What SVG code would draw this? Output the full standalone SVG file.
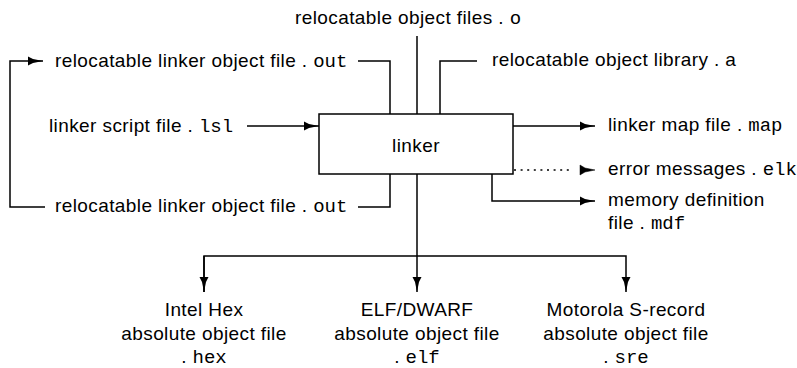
<svg xmlns="http://www.w3.org/2000/svg" width="797" height="368" viewBox="0 0 797 368">
<defs>
<style>
.t{font-family:"Liberation Sans",Arial,sans-serif;font-size:19px;letter-spacing:0.4px;fill:#000}
.m{font-family:"Liberation Mono","Courier New",monospace;font-size:19px;letter-spacing:0}
.ln{stroke:#000;stroke-width:1.5;fill:none}
.dot{stroke:#000;stroke-width:1.5;fill:none;stroke-dasharray:2 4.6}
.box{fill:#fff;stroke:#000;stroke-width:1.5}
</style>
<marker id="ah" viewBox="0 0 15 10" refX="15" refY="5" markerWidth="15" markerHeight="10" markerUnits="userSpaceOnUse" orient="auto">
<path d="M0,0.5 L5,3 L15,5 L5,7 L0,9.5 Z" fill="#000"/>
</marker>
</defs>
<rect width="797" height="368" fill="#fff"/>
<g id="connectors">
<path class="ln" d="M417,36 V114"/>
<path class="ln" d="M477,61 H440 V114"/>
<path class="ln" d="M358,61 H390 V114"/>
<path class="ln" d="M358,207 H390 V174"/>
<path class="ln" d="M45,207 H10 V61 H43" marker-end="url(#ah)"/>
<path class="ln" d="M247,126 H319" marker-end="url(#ah)"/>
<path class="ln" d="M513,126 H595" marker-end="url(#ah)"/>
<path class="dot" d="M514,170 H572"/>
<polygon points="580,165 585,168 595,170 585,172 580,175" fill="#000" stroke="#000" stroke-width="0.5"/>
<path class="ln" d="M492,174 V201 H595" marker-end="url(#ah)"/>
<path class="ln" d="M417,174 V292" marker-end="url(#ah)"/>
<path class="ln" d="M204,292 V256 H626 V292" marker-end="url(#ah)"/>
<path class="ln" d="M204,256 V292" marker-end="url(#ah)"/>
</g>
<g id="linker">
<rect class="box" x="319" y="114" width="194" height="60"/>
<text class="t" x="416" y="152" text-anchor="middle">linker</text>
</g>
<g id="obj-files"><text class="t" x="295" y="24">relocatable object files  . <tspan class="m">o</tspan></text></g>
<g id="obj-library"><text class="t" x="492" y="66">relocatable object library . a</text></g>
<g id="out-top"><text class="t" x="55" y="67">relocatable linker object file  . <tspan class="m">out</tspan></text></g>
<g id="lsl"><text class="t" x="49" y="132">linker script file  . <tspan class="m">lsl</tspan></text></g>
<g id="out-bottom"><text class="t" x="55" y="212">relocatable linker object file  . <tspan class="m">out</tspan></text></g>
<g id="map"><text class="t" x="608" y="131">linker map file  . <tspan class="m">map</tspan></text></g>
<g id="elk"><text class="t" x="608" y="175">error messages  . <tspan class="m">elk</tspan></text></g>
<g id="mdf"><text class="t" x="608" y="206">memory definition</text><text class="t" x="608" y="229">file  . <tspan class="m">mdf</tspan></text></g>
<g id="hex"><text class="t" text-anchor="middle"><tspan x="204" y="316">Intel Hex</tspan><tspan x="204" y="340">absolute object file</tspan><tspan x="204" y="363">. <tspan class="m">hex</tspan></tspan></text></g>
<g id="elf"><text class="t" text-anchor="middle"><tspan x="417" y="316">ELF/DWARF</tspan><tspan x="417" y="340">absolute object file</tspan><tspan x="417" y="363">. <tspan class="m">elf</tspan></tspan></text></g>
<g id="sre"><text class="t" text-anchor="middle"><tspan x="626" y="316">Motorola S-record</tspan><tspan x="626" y="340">absolute object file</tspan><tspan x="626" y="363">. <tspan class="m">sre</tspan></tspan></text></g>
</svg>
